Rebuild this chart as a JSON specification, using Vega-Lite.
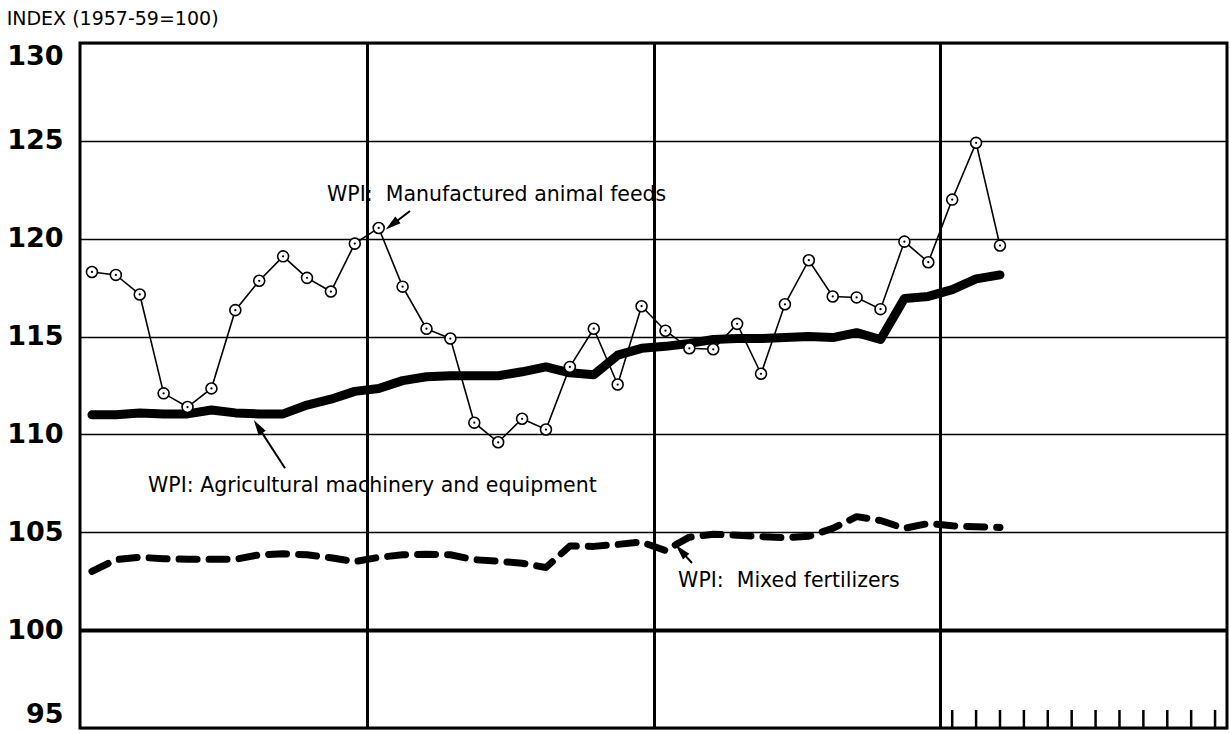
{
  "$schema": "https://vega.github.io/schema/vega-lite/v6.json",
  "width": 1147,
  "height": 685,
  "autosize": "none",
  "padding": {"left": 80, "top": 43, "right": 3, "bottom": 5},
  "background": "white",
  "title": {"text": "INDEX (1957-59=100)", "anchor": "start", "frame": "bounds", "fontSize": 19, "fontWeight": "normal", "font": "DejaVu Sans", "color": "black", "offset": 13},
  "config": {"view": {"stroke": "black", "strokeWidth": 3}, "font": "DejaVu Sans"},
  "data": {"values": [{}]},
  "datasets": {
    "feeds": [
      {"month": 1, "index": 118.3}, {"month": 2, "index": 118.15}, {"month": 3, "index": 117.15}, {"month": 4, "index": 112.1},
      {"month": 5, "index": 111.4}, {"month": 6, "index": 112.35}, {"month": 7, "index": 116.35}, {"month": 8, "index": 117.85},
      {"month": 9, "index": 119.1}, {"month": 10, "index": 118.0}, {"month": 11, "index": 117.3}, {"month": 12, "index": 119.75},
      {"month": 13, "index": 120.55}, {"month": 14, "index": 117.55}, {"month": 15, "index": 115.4}, {"month": 16, "index": 114.9},
      {"month": 17, "index": 110.6}, {"month": 18, "index": 109.6}, {"month": 19, "index": 110.8}, {"month": 20, "index": 110.25},
      {"month": 21, "index": 113.45}, {"month": 22, "index": 115.4}, {"month": 23, "index": 112.55}, {"month": 24, "index": 116.55},
      {"month": 25, "index": 115.3}, {"month": 26, "index": 114.4}, {"month": 27, "index": 114.35}, {"month": 28, "index": 115.65},
      {"month": 29, "index": 113.1}, {"month": 30, "index": 116.65}, {"month": 31, "index": 118.9}, {"month": 32, "index": 117.05},
      {"month": 33, "index": 117.0}, {"month": 34, "index": 116.4}, {"month": 35, "index": 119.85}, {"month": 36, "index": 118.8},
      {"month": 37, "index": 122.0}, {"month": 38, "index": 124.9}, {"month": 39, "index": 119.65}
    ],
    "machinery": [
      {"month": 1, "index": 111.0}, {"month": 2, "index": 111.0}, {"month": 3, "index": 111.1}, {"month": 4, "index": 111.05},
      {"month": 5, "index": 111.05}, {"month": 6, "index": 111.25}, {"month": 7, "index": 111.1}, {"month": 8, "index": 111.05},
      {"month": 9, "index": 111.05}, {"month": 10, "index": 111.5}, {"month": 11, "index": 111.8}, {"month": 12, "index": 112.2},
      {"month": 13, "index": 112.35}, {"month": 14, "index": 112.75}, {"month": 15, "index": 112.95}, {"month": 16, "index": 113.0},
      {"month": 17, "index": 113.0}, {"month": 18, "index": 113.0}, {"month": 19, "index": 113.2}, {"month": 20, "index": 113.45},
      {"month": 21, "index": 113.15}, {"month": 22, "index": 113.05}, {"month": 23, "index": 114.05}, {"month": 24, "index": 114.4},
      {"month": 25, "index": 114.5}, {"month": 26, "index": 114.65}, {"month": 27, "index": 114.85}, {"month": 28, "index": 114.9},
      {"month": 29, "index": 114.9}, {"month": 30, "index": 114.95}, {"month": 31, "index": 115.0}, {"month": 32, "index": 114.95},
      {"month": 33, "index": 115.2}, {"month": 34, "index": 114.85}, {"month": 35, "index": 116.95}, {"month": 36, "index": 117.05},
      {"month": 37, "index": 117.4}, {"month": 38, "index": 117.95}, {"month": 39, "index": 118.15}
    ],
    "fertilizer": [
      {"month": 1, "index": 103.0}, {"month": 2, "index": 103.6}, {"month": 3, "index": 103.72}, {"month": 4, "index": 103.65},
      {"month": 5, "index": 103.62}, {"month": 6, "index": 103.62}, {"month": 7, "index": 103.62}, {"month": 8, "index": 103.85},
      {"month": 9, "index": 103.9}, {"month": 10, "index": 103.85}, {"month": 11, "index": 103.7}, {"month": 12, "index": 103.5},
      {"month": 13, "index": 103.72}, {"month": 14, "index": 103.85}, {"month": 15, "index": 103.88}, {"month": 16, "index": 103.85},
      {"month": 17, "index": 103.6}, {"month": 18, "index": 103.52}, {"month": 19, "index": 103.42}, {"month": 20, "index": 103.2},
      {"month": 21, "index": 104.3}, {"month": 22, "index": 104.28}, {"month": 23, "index": 104.38}, {"month": 24, "index": 104.5},
      {"month": 25, "index": 104.07}, {"month": 26, "index": 104.75}, {"month": 27, "index": 104.9}, {"month": 28, "index": 104.85},
      {"month": 29, "index": 104.78}, {"month": 30, "index": 104.72}, {"month": 31, "index": 104.8}, {"month": 32, "index": 105.2},
      {"month": 33, "index": 105.8}, {"month": 34, "index": 105.6}, {"month": 35, "index": 105.2}, {"month": 36, "index": 105.45},
      {"month": 37, "index": 105.33}, {"month": 38, "index": 105.28}, {"month": 39, "index": 105.25}
    ],
    "ticks": [
      {"month": 37}, {"month": 38}, {"month": 39}, {"month": 40}, {"month": 41}, {"month": 42},
      {"month": 43}, {"month": 44}, {"month": 45}, {"month": 46}, {"month": 47}, {"month": 48}
    ]
  },
  "layer": [
    {
      "data": {"name": "fertilizer"},
      "mark": {"type": "line", "stroke": "black", "strokeWidth": 7, "strokeDash": [18, 12], "strokeCap": "round", "strokeJoin": "round"},
      "encoding": {
        "x": {"field": "month", "type": "quantitative", "title": null,
          "scale": {"domain": [0.5, 48.5], "nice": false, "zero": false},
          "axis": {"values": [12.5, 24.5, 36.5], "grid": true, "gridColor": "black", "gridWidth": 3, "gridOpacity": 1, "labels": false, "ticks": false, "domain": false}},
        "y": {"field": "index", "type": "quantitative", "title": null,
          "scale": {"domain": [95, 130], "nice": false, "zero": false},
          "axis": {"values": [95, 100, 105, 110, 115, 120, 125, 130], "grid": true, "gridColor": "black", "gridOpacity": 1,
            "gridWidth": {"condition": {"test": "datum.value === 100", "value": 4}, "value": 1.5},
            "domain": false, "ticks": false, "labelFont": "DejaVu Sans", "labelFontSize": 27, "labelFontWeight": "bold",
            "labelColor": "black", "labelPadding": 17, "labelFlush": true}}
      }
    },
    {
      "data": {"name": "machinery"},
      "mark": {"type": "line", "stroke": "black", "strokeWidth": 9, "strokeCap": "round", "strokeJoin": "round"},
      "encoding": {
        "x": {"field": "month", "type": "quantitative", "title": null},
        "y": {"field": "index", "type": "quantitative", "title": null}
      }
    },
    {
      "data": {"name": "feeds"},
      "mark": {"type": "line", "stroke": "black", "strokeWidth": 1.6},
      "encoding": {
        "x": {"field": "month", "type": "quantitative", "title": null},
        "y": {"field": "index", "type": "quantitative", "title": null}
      }
    },
    {
      "data": {"name": "feeds"},
      "mark": {"type": "point", "shape": "circle", "filled": true, "fill": "white", "stroke": "black", "strokeWidth": 1.6, "size": 120, "opacity": 1},
      "encoding": {
        "x": {"field": "month", "type": "quantitative", "title": null},
        "y": {"field": "index", "type": "quantitative", "title": null}
      }
    },
    {
      "data": {"name": "feeds"},
      "mark": {"type": "point", "shape": "circle", "filled": true, "fill": "black", "size": 5, "opacity": 1},
      "encoding": {
        "x": {"field": "month", "type": "quantitative", "title": null},
        "y": {"field": "index", "type": "quantitative", "title": null}
      }
    },
    {
      "data": {"name": "ticks"},
      "mark": {"type": "rule", "stroke": "black", "strokeWidth": 2.5},
      "encoding": {
        "x": {"field": "month", "type": "quantitative", "title": null},
        "y": {"datum": 95, "type": "quantitative"},
        "y2": {"datum": 95.92}
      }
    },
    {
      "mark": {"type": "text", "text": "WPI:\u00a0 Manufactured animal feeds", "align": "left", "baseline": "alphabetic", "fontSize": 20.5, "font": "DejaVu Sans", "color": "black"},
      "encoding": {"x": {"datum": 10.84, "type": "quantitative"}, "y": {"datum": 121.94, "type": "quantitative"}}
    },
    {
      "mark": {"type": "text", "text": "WPI: Agricultural machinery and equipment", "align": "left", "baseline": "alphabetic", "fontSize": 20.5, "font": "DejaVu Sans", "color": "black"},
      "encoding": {"x": {"datum": 3.35, "type": "quantitative"}, "y": {"datum": 107.06, "type": "quantitative"}}
    },
    {
      "mark": {"type": "text", "text": "WPI:\u00a0 Mixed fertilizers", "align": "left", "baseline": "alphabetic", "fontSize": 20.5, "font": "DejaVu Sans", "color": "black"},
      "encoding": {"x": {"datum": 25.53, "type": "quantitative"}, "y": {"datum": 102.2, "type": "quantitative"}}
    },
    {
      "mark": {"type": "rule", "stroke": "black", "strokeWidth": 2},
      "encoding": {"x": {"datum": 14.31, "type": "quantitative"}, "y": {"datum": 121.42, "type": "quantitative"}, "x2": {"datum": 13.6}, "y2": {"datum": 120.75}}
    },
    {
      "mark": {"type": "point", "shape": "M0,-1L0.55,1L-0.55,1Z", "filled": true, "fill": "black", "stroke": "black", "strokeWidth": 0, "size": 240, "angle": 232, "opacity": 1},
      "encoding": {"x": {"datum": 13.55, "type": "quantitative"}, "y": {"datum": 120.72, "type": "quantitative"}}
    },
    {
      "mark": {"type": "rule", "stroke": "black", "strokeWidth": 2},
      "encoding": {"x": {"datum": 9.08, "type": "quantitative"}, "y": {"datum": 108.27, "type": "quantitative"}, "x2": {"datum": 7.95}, "y2": {"datum": 110.4}}
    },
    {
      "mark": {"type": "point", "shape": "M0,-1L0.55,1L-0.55,1Z", "filled": true, "fill": "black", "stroke": "black", "strokeWidth": 0, "size": 240, "angle": 327, "opacity": 1},
      "encoding": {"x": {"datum": 7.95, "type": "quantitative"}, "y": {"datum": 110.4, "type": "quantitative"}}
    },
    {
      "mark": {"type": "rule", "stroke": "black", "strokeWidth": 2},
      "encoding": {"x": {"datum": 26.11, "type": "quantitative"}, "y": {"datum": 103.43, "type": "quantitative"}, "x2": {"datum": 25.65}, "y2": {"datum": 104.05}}
    },
    {
      "mark": {"type": "point", "shape": "M0,-1L0.55,1L-0.55,1Z", "filled": true, "fill": "black", "stroke": "black", "strokeWidth": 0, "size": 240, "angle": 318, "opacity": 1},
      "encoding": {"x": {"datum": 25.65, "type": "quantitative"}, "y": {"datum": 104.05, "type": "quantitative"}}
    }
  ]
}
